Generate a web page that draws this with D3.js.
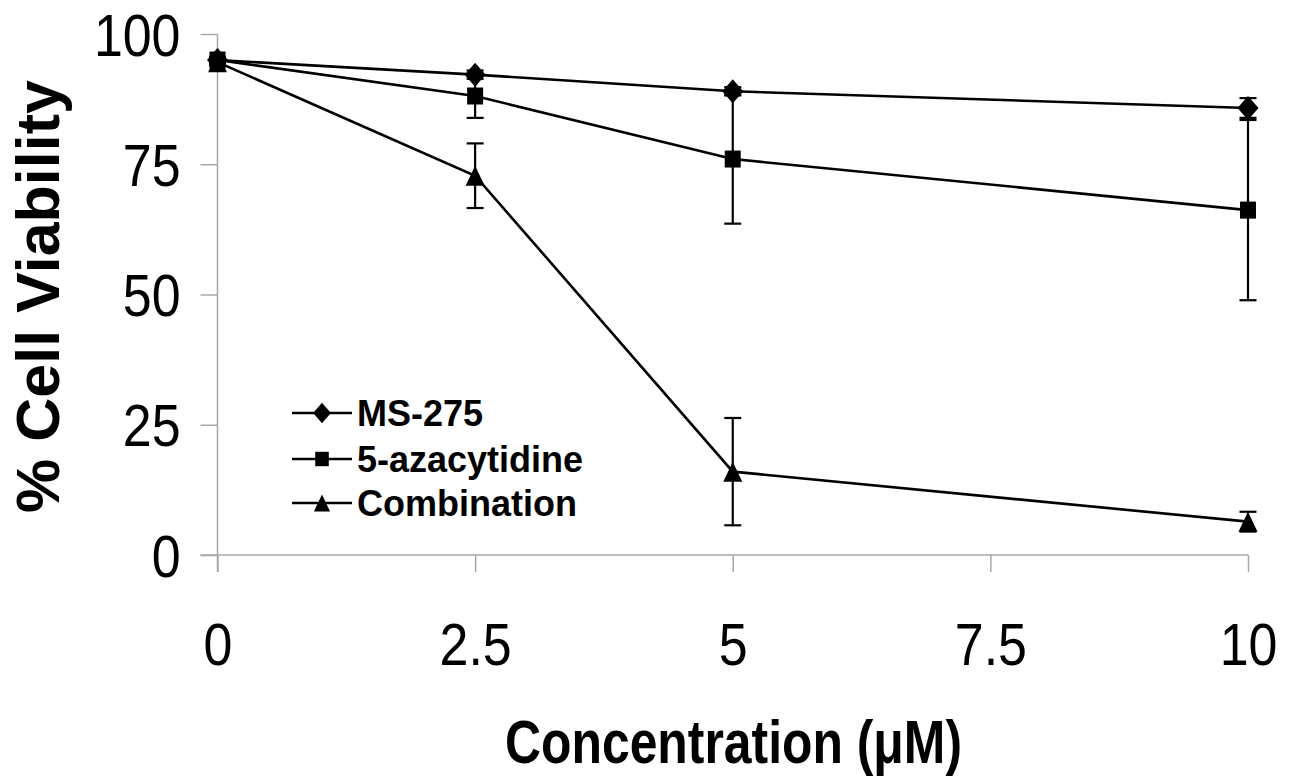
<!DOCTYPE html>
<html>
<head>
<meta charset="utf-8">
<script src="https://cdn.jsdelivr.net/npm/d3@7"></script>
<style>
  html, body { margin: 0; padding: 0; background: #ffffff; }
  svg { display: block; }
  text { font-family: Arial, "Liberation Sans", Helvetica, sans-serif; fill: #000; }
</style>
</head>
<body>
<svg id="chart" width="1290" height="778"></svg>
<script>
// ---- data ----
const concentrations = [0, 2.5, 5, 10];
const seriesNames = ["MS-275", "5-azacytidine", "Combination"];
const ms275 = [95, 92.2, 89, 85.8];
const ms275Err = [0.6, 0.8, 0.8, 1.9];
const aza = [95, 88.1, 76, 66.2];
const azaErr = [0.6, 4.2, 12.4, 17.3];
const combo = [94.6, 72.8, 16, 6.4];
const comboErr = [0.6, 6.2, 10.3, 1.9];
const xTicks = [0, 2.5, 5, 7.5, 10];
const yTicks = [0, 25, 50, 75, 100];
const xTitle = "Concentration (\u03BCM)";
const yTitle = "% Cell Viability";

// ---- layout ----
const svg = d3.select("#chart");
const x = d3.scaleLinear().domain([0, 10]).range([217.5, 1248]);
const y = d3.scaleLinear().domain([0, 100]).range([555, 34]);
const axisColor = "#a8a8a8";
const tickLen = 17;
const tickScaleX = 0.88;

// Y axis
const yAxis = svg.append("g")
  .attr("transform", `translate(${x(0)},0)`)
  .call(d3.axisLeft(y).tickValues(yTicks).tickSize(tickLen).tickSizeOuter(0).tickFormat(d3.format("d")));
yAxis.select(".domain").remove();
yAxis.selectAll(".tick line").attr("stroke", axisColor).attr("stroke-width", 1.5);
yAxis.selectAll(".tick text")
  .attr("x", -37 / tickScaleX)
  .attr("dy", "0.36em")
  .attr("transform", `scale(${tickScaleX},1)`)
  .style("font-size", "59px")
  .style("font-family", "Arial, 'Liberation Sans', sans-serif")
  .attr("fill", "#000");
svg.append("line")
  .attr("x1", x(0)).attr("x2", x(0))
  .attr("y1", y(100)).attr("y2", y(0) + tickLen)
  .attr("stroke", axisColor).attr("stroke-width", 1.5);

// X axis
const xAxis = svg.append("g")
  .attr("transform", `translate(0,${y(0)})`)
  .call(d3.axisBottom(x).tickValues(xTicks).tickSize(tickLen).tickSizeOuter(0).tickFormat(d => String(d)));
xAxis.select(".domain").remove();
xAxis.selectAll(".tick line").attr("stroke", axisColor).attr("stroke-width", 1.5);
xAxis.selectAll(".tick text")
  .attr("y", 110)
  .attr("dy", 0)
  .attr("transform", `scale(${tickScaleX},1)`)
  .style("font-size", "59px")
  .style("font-family", "Arial, 'Liberation Sans', sans-serif")
  .attr("fill", "#000");
svg.append("line")
  .attr("x1", x(0) - tickLen).attr("x2", x(10))
  .attr("y1", y(0)).attr("y2", y(0))
  .attr("stroke", axisColor).attr("stroke-width", 1.5);

// Titles
svg.append("text")
  .attr("transform", `translate(59,296.5) rotate(-90)`)
  .attr("text-anchor", "middle")
  .style("font-size", "61px")
  .style("font-weight", "bold")
  .text(yTitle);

svg.append("text")
  .attr("x", 733.5).attr("y", 763)
  .attr("text-anchor", "middle")
  .attr("textLength", 457)
  .attr("lengthAdjust", "spacingAndGlyphs")
  .style("font-size", "62px")
  .style("font-weight", "bold")
  .text(xTitle);

// ---- markers ----
function markerPath(type, s) {
  if (type === "diamond") {
    const w = 10.5 * s, h = 12 * s;
    return `M0,${-h}L${w},0L0,${h}L${-w},0Z`;
  } else if (type === "square") {
    const w = 8 * s, h = 8.5 * s;
    return `M${-w},${-h}L${w},${-h}L${w},${h}L${-w},${h}Z`;
  } else {
    const w = 9.5 * s, h = 10 * s;
    return `M0,${-h}L${w},${h}L${-w},${h}Z`;
  }
}

const series = [
  { name: seriesNames[0], values: ms275, errs: ms275Err, marker: "diamond" },
  { name: seriesNames[1], values: aza, errs: azaErr, marker: "square" },
  { name: seriesNames[2], values: combo, errs: comboErr, marker: "triangle" }
];

const line = d3.line().x(d => x(d[0])).y(d => y(d[1]));
const capHalf = 8.5;

series.forEach(s => {
  const pts = concentrations.map((c, i) => [c, s.values[i], s.errs[i]]);
  const g = svg.append("g");
  g.append("path")
    .attr("d", line(pts))
    .attr("fill", "none")
    .attr("stroke", "#000")
    .attr("stroke-width", 2.6);
  const eb = g.selectAll(".eb").data(pts).enter().append("g");
  eb.append("line")
    .attr("x1", d => x(d[0])).attr("x2", d => x(d[0]))
    .attr("y1", d => y(d[1] + d[2])).attr("y2", d => y(d[1] - d[2]))
    .attr("stroke", "#000").attr("stroke-width", 2.2);
  [1, -1].forEach(sign => {
    eb.append("line")
      .attr("x1", d => x(d[0]) - capHalf).attr("x2", d => x(d[0]) + capHalf)
      .attr("y1", d => y(d[1] + sign * d[2])).attr("y2", d => y(d[1] + sign * d[2]))
      .attr("stroke", "#000").attr("stroke-width", 2.2);
  });
  g.selectAll(".mk").data(pts).enter().append("path")
    .attr("d", markerPath(s.marker, 1))
    .attr("transform", d => `translate(${x(d[0])},${y(d[1])})`)
    .attr("fill", "#000");
});

// ---- legend ----
const legendRows = [413, 459, 503];
series.forEach((s, i) => {
  const cy = legendRows[i];
  svg.append("line")
    .attr("x1", 292).attr("x2", 352)
    .attr("y1", cy).attr("y2", cy)
    .attr("stroke", "#000").attr("stroke-width", 2.6);
  svg.append("path")
    .attr("d", markerPath(s.marker, 0.85))
    .attr("transform", `translate(322,${cy})`)
    .attr("fill", "#000");
  svg.append("text")
    .attr("x", 357).attr("y", cy + 12.5)
    .style("font-size", "36px")
    .style("font-weight", "bold")
    .text(s.name);
});
</script>
</body>
</html>
